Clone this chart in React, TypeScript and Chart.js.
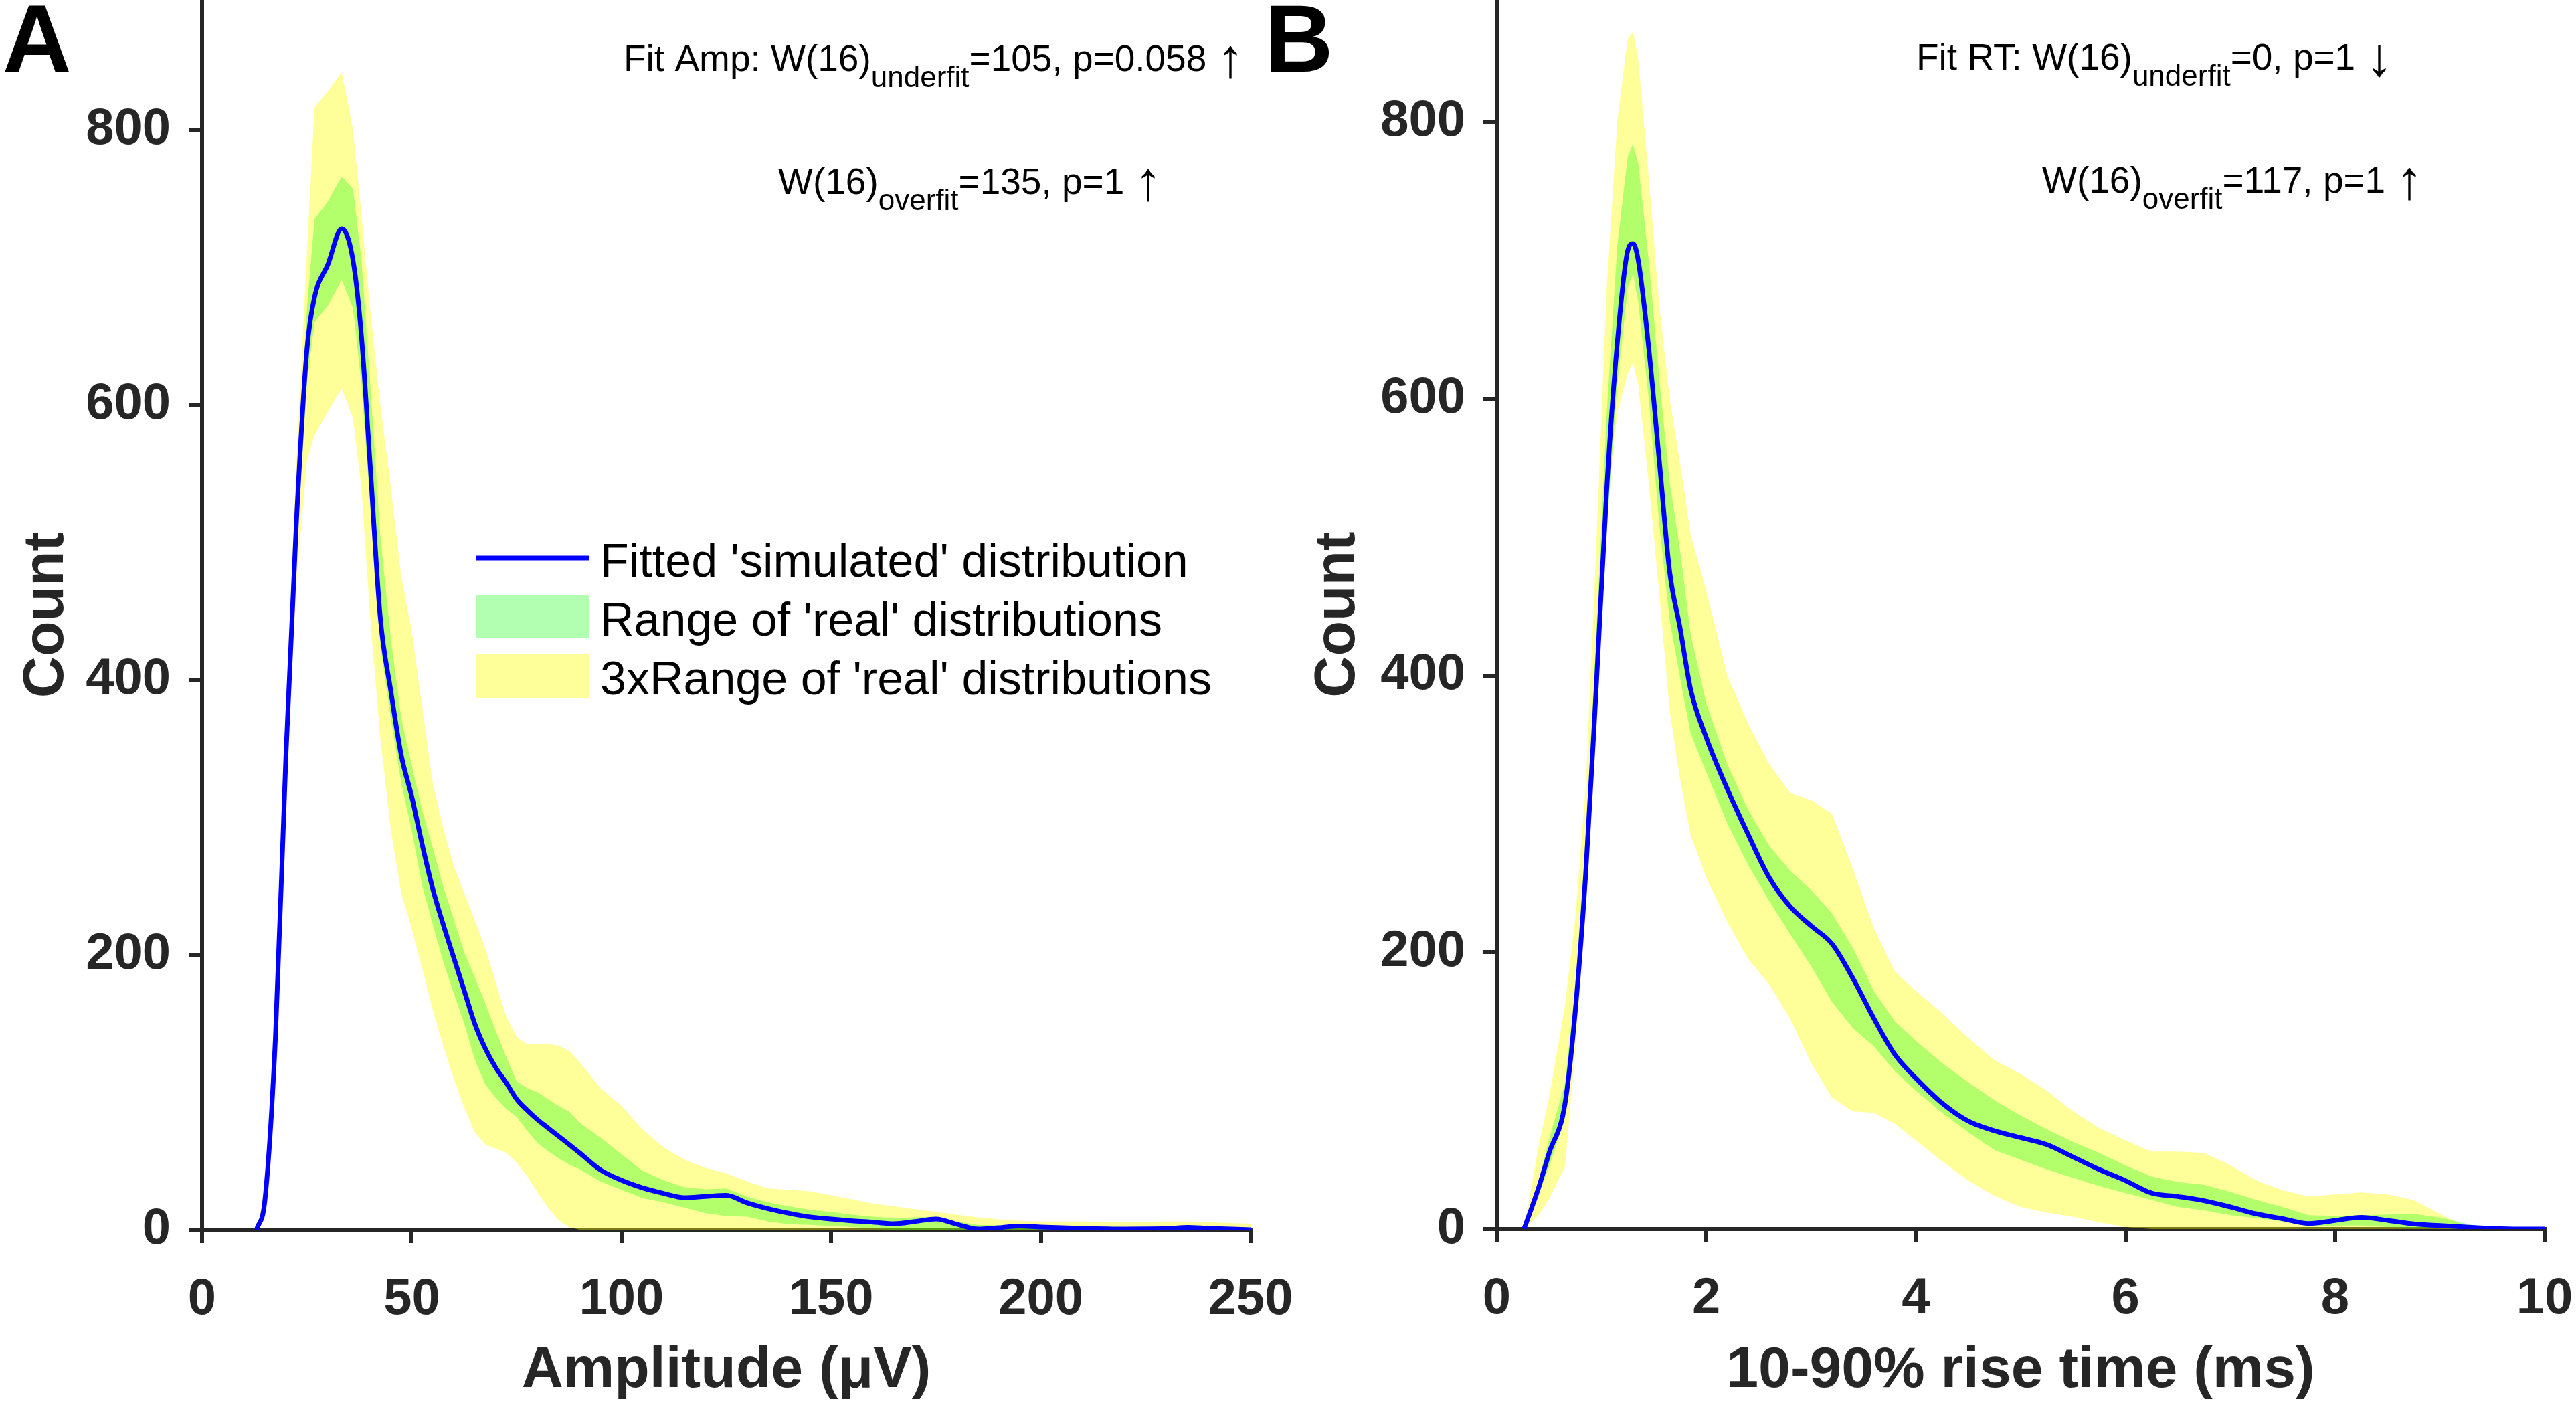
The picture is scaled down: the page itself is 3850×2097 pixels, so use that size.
import { useEffect, useRef } from "react";
import { Chart, registerables } from "chart.js";

Chart.register(...registerables);

const H = 2097;
const FONT = '"Liberation Sans", Arial, Helvetica, sans-serif';
const AXIS = "#262626";
const BLUE = "#0000ff";
const GREEN = "rgba(0, 255, 0, 0.3)";
const YELLOW = "rgba(255, 255, 0, 0.4)";

// ---- panel A : amplitude (uV) ----
const ampX = [13, 15, 17.5, 20, 22.5, 25, 26.8, 30, 33.3, 36, 38, 40, 42.5, 45, 47.5, 50, 52.5, 55, 57.5, 60, 62.5, 65, 67.5, 70, 72.5, 75, 77.5, 80, 82.5, 85, 87.5, 90, 95, 100, 105, 110, 115, 120, 125, 130, 135, 140, 145, 150, 155, 160, 165, 170, 175, 180, 185, 190, 195, 200, 210, 220, 230, 235, 240, 250];
const ampFit = [0, 22, 140, 345, 515, 640, 678, 702, 728, 705, 650, 560, 445, 392, 345, 315, 280, 248, 222, 198, 174, 150, 132, 118, 107, 95, 87, 80, 74, 68, 62, 56, 43.5, 36, 30.5, 26.5, 23.4, 24.2, 25, 19.5, 15.3, 12, 9.3, 7.8, 6.5, 5.5, 4.4, 6, 7.8, 4, 0.5, 1.5, 2.7, 2, 1, 0.5, 0.8, 1.7, 1, 0];
const ampRangeHi = [0, 24, 150, 360, 535, 670, 735, 748, 766, 757, 705, 620, 505, 430, 372, 338, 305, 278, 250, 226, 202, 184, 165, 145, 126, 108, 103, 100, 95, 90, 86, 78, 67, 55, 43, 36, 31, 29.5, 30, 24, 20, 17, 14.5, 13, 11, 9.5, 8.5, 9, 9.5, 6, 3.5, 3, 3, 2.7, 2.5, 2, 1.5, 2, 1.5, 1];
const ampRangeLo = [0, 20, 130, 330, 495, 615, 660, 672, 691, 670, 615, 530, 425, 372, 325, 290, 250, 222, 195, 172, 150, 124, 106, 96, 88, 82, 72, 63, 57, 52, 47.5, 44, 35, 29, 23, 20, 16, 12, 10, 9.5, 6, 4, 3.5, 2.7, 2, 1, 0, 0, 0, 0, 0, 0, 0, 0, 0, 0, 0, 0, 0, 0];
const amp3Hi = [0, 30, 160, 380, 560, 710, 816, 828, 842, 800, 738, 672, 600, 540, 475, 435, 380, 325, 292, 265, 245, 225, 205, 180, 155, 140, 135, 135, 135, 134, 130, 122, 103, 90, 73, 60, 51, 45, 41, 35, 30, 29, 28, 25, 22, 19, 17, 15, 13, 11, 9, 7.5, 6.5, 6, 6, 5.5, 6, 6, 5.5, 4.4];
const amp3Lo = [0, 15, 120, 310, 470, 560, 578, 595, 612, 590, 540, 449, 358, 291, 245, 219, 190, 160, 134, 110, 89, 71, 62, 59, 56, 49, 39, 27, 16, 7, 2, 0, 0, 0, 0, 0, 0, 0, 0, 0, 0, 0, 0, 0, 0, 0, 0, 0, 0, 0, 0, 0, 0, 0, 0, 0, 0, 0, 0, 0];
const ampTicks = [0, 50, 100, 150, 200, 250];

// ---- panel B : 10-90% rise time (ms) ----
const rtX = [0.26, 0.4, 0.5, 0.65, 0.75, 0.85, 0.95, 1.05, 1.15, 1.25, 1.3, 1.35, 1.45, 1.55, 1.65, 1.75, 1.85, 2.0, 2.2, 2.4, 2.6, 2.8, 3.0, 3.2, 3.4, 3.6, 3.8, 4.0, 4.25, 4.5, 4.75, 5.0, 5.25, 5.5, 5.75, 6.0, 6.25, 6.5, 6.75, 7.0, 7.25, 7.5, 7.75, 8.0, 8.25, 8.5, 8.75, 9.0, 9.25, 9.5, 9.75, 10];
const rtFit = [0, 30, 55, 90, 158, 258, 392, 535, 640, 707, 712, 700, 637, 556, 475, 434, 390, 355, 318, 285, 254, 233, 219, 206, 181, 152, 126, 109, 91, 78, 71, 66, 61, 52, 43, 35, 26, 23.5, 20.5, 16, 11, 7.5, 4, 6.2, 8.4, 6.3, 3.7, 2.5, 1.5, 0.5, 0, 0];
const rtRangeHi = [0, 35, 65, 105, 175, 285, 430, 590, 710, 775, 784, 770, 700, 615, 540, 490, 430, 380, 336, 303, 277, 259, 245, 228, 203, 172, 150, 136, 120, 106, 93, 82, 72, 63, 55, 46, 38, 34, 32, 27, 21, 16, 10, 9.5, 10, 10.5, 11, 8.5, 4, 0, 0, 0];
const rtRangeLo = [0, 25, 45, 80, 140, 235, 370, 505, 610, 680, 690, 670, 600, 510, 440, 398, 358, 330, 293, 263, 237, 213, 190, 164, 145, 132, 114, 100, 84, 70, 57, 50, 43, 37, 31, 26, 21, 16, 13.5, 10, 8, 5.5, 2, 2.5, 2.5, 1.5, 1, 0.5, 0, 0, 0, 0];
const rt3Hi = [0, 60, 95, 161, 225, 320, 495, 680, 800, 860, 865, 845, 760, 668, 600, 553, 502, 461, 400, 365, 336, 315, 310, 300, 260, 217, 186, 172, 156, 138, 122, 112, 100, 85, 73, 64, 56, 56, 55, 46, 35, 28, 23.5, 25, 26.5, 25, 21, 11, 2, 0, 0, 0];
const rt3Lo = [0, 10, 22, 45, 128, 230, 380, 520, 590, 618, 626, 610, 540, 460, 375, 325, 285, 254, 222, 195, 177, 152, 120, 95, 85, 84, 76, 64, 49, 35, 24, 16, 12, 9, 5, 1.5, 0, 0, 0, 0, 0, 0, 0, 0, 0, 0, 0, 0, 0, 0, 0, 0];
const rtTicks = [0, 2, 4, 6, 8, 10];

const countTicks = [0, 200, 400, 600, 800];
const legendLabels = ["Fitted 'simulated' distribution", "Range of 'real' distributions", "3xRange of 'real' distributions"];

// kind: "sub" = subscript, "arrow" = tall thin arrow glyph
type Run = { t: string; kind?: "sub" | "arrow" };
type Note = { x: number; y: number; runs: Run[] };

const ampNotes: Note[] = [
  { x: 932, y: 106, runs: [{ t: "Fit Amp: W(16)" }, { t: "underfit", kind: "sub" }, { t: "=105, p=0.058 " }, { t: "↑", kind: "arrow" }] },
  { x: 1163, y: 290, runs: [{ t: "W(16)" }, { t: "overfit", kind: "sub" }, { t: "=135, p=1 " }, { t: "↑", kind: "arrow" }] },
];
const rtNotes: Note[] = [
  { x: 1024, y: 104, runs: [{ t: "Fit RT: W(16)" }, { t: "underfit", kind: "sub" }, { t: "=0, p=1 " }, { t: "↓", kind: "arrow" }] },
  { x: 1212, y: 288, runs: [{ t: "W(16)" }, { t: "overfit", kind: "sub" }, { t: "=117, p=1 " }, { t: "↑", kind: "arrow" }] },
];

function drawRuns(ctx: CanvasRenderingContext2D, note: Note) {
  let cx = note.x;
  for (const r of note.runs) {
    let size = 55;
    let dy = 0;
    if (r.kind === "sub") { size = 44; dy = 24; }
    if (r.kind === "arrow") { size = 82; dy = 9; }
    ctx.font = `${size}px ${FONT}`;
    ctx.fillText(r.t, cx, note.y + dy);
    cx += ctx.measureText(r.t).width;
  }
}

function drawLegend(ctx: CanvasRenderingContext2D) {
  const x0 = 712, x1 = 880, tx = 897;
  ctx.strokeStyle = BLUE;
  ctx.lineWidth = 7;
  ctx.beginPath();
  ctx.moveTo(x0, 834);
  ctx.lineTo(x1, 834);
  ctx.stroke();
  ctx.fillStyle = GREEN;
  ctx.fillRect(x0, 890, x1 - x0, 64);
  ctx.fillStyle = YELLOW;
  ctx.fillRect(x0, 978, x1 - x0, 65);
  ctx.fillStyle = "#000";
  ctx.font = `70px ${FONT}`;
  legendLabels.forEach((s, i) => ctx.fillText(s, tx, 862 + i * 88));
}

const panels = [
  {
    x: ampX, fit: ampFit, hi: ampRangeHi, lo: ampRangeLo, hi3: amp3Hi, lo3: amp3Lo,
    xTicks: ampTicks, xMax: 250, yMax: 894.4, xTitle: "Amplitude (μV)",
    left: 0, width: 1960, pad: { left: 0, right: 91 }, yW: 302, xH: 259,
    letter: "A", letterX: 4, notes: ampNotes, legend: true,
  },
  {
    x: rtX, fit: rtFit, hi: rtRangeHi, lo: rtRangeLo, hi3: rt3Hi, lo3: rt3Lo,
    xTicks: rtTicks, xMax: 10, yMax: 888, xTitle: "10-90% rise time (ms)",
    left: 1840, width: 2010, pad: { left: 90, right: 47 }, yW: 307, xH: 260,
    letter: "B", letterX: 50, notes: rtNotes, legend: false,
  },
];

function makeConfig(p: any): any {
  const pts = (ys: number[]) => p.x.map((x: number, i: number) => ({ x, y: ys[i] }));
  const band = (ys: number[], fill: any, color: string) => ({
    data: pts(ys), fill, backgroundColor: color, borderColor: "rgba(0,0,0,0)",
    borderWidth: 0, pointRadius: 0, tension: 0,
  });
  const tickFont = { family: FONT, weight: "bold", size: 76 };
  const titleFont = { family: FONT, weight: "bold", size: 86, lineHeight: 1 };
  const grid = { display: true, drawOnChartArea: false, drawTicks: true, tickLength: 20, color: AXIS, lineWidth: 6 };
  const border = { display: true, color: AXIS, width: 6 };
  return {
    type: "line",
    data: {
      datasets: [
        { data: pts(p.fit), borderColor: BLUE, borderWidth: 7, pointRadius: 0, fill: false, cubicInterpolationMode: "monotone" },
        band(p.hi, "+1", GREEN),
        band(p.lo, false, GREEN),
        band(p.hi3, "+1", YELLOW),
        band(p.lo3, false, YELLOW),
      ],
    },
    options: {
      animation: false,
      responsive: false,
      maintainAspectRatio: false,
      devicePixelRatio: 1,
      layout: { padding: { left: p.pad.left, right: p.pad.right, top: 0, bottom: 0 } },
      plugins: { legend: { display: false }, tooltip: { enabled: false } },
      scales: {
        x: {
          type: "linear", position: "bottom", min: 0, max: p.xMax, bounds: "data",
          afterBuildTicks: (s: any) => { s.ticks = p.xTicks.map((v: number) => ({ value: v })); },
          afterFit: (s: any) => { s.height = p.xH; s.paddingLeft = 0; s.paddingRight = 0; },
          ticks: { font: tickFont, color: AXIS, padding: 39, maxRotation: 0 },
          grid, border,
          title: { display: true, text: p.xTitle, font: titleFont, color: AXIS, padding: { top: 0, bottom: 5 } },
        },
        y: {
          type: "linear", position: "left", min: 0, max: p.yMax, bounds: "data",
          afterBuildTicks: (s: any) => { s.ticks = countTicks.map((v) => ({ value: v })); },
          afterFit: (s: any) => { s.width = p.yW; s.paddingTop = 0; s.paddingBottom = 0; },
          ticks: { font: tickFont, color: AXIS, padding: 27 },
          grid, border,
          title: { display: true, text: "Count", font: titleFont, color: AXIS, padding: { top: 27, bottom: 0 } },
        },
      },
    },
    plugins: [
      {
        id: "panelText",
        afterDraw(chart: any) {
          const ctx = chart.ctx as CanvasRenderingContext2D;
          ctx.save();
          ctx.textAlign = "left";
          ctx.textBaseline = "alphabetic";
          ctx.fillStyle = "#000";
          ctx.font = `bold 142px ${FONT}`;
          ctx.fillText(p.letter, p.letterX, 107);
          p.notes.forEach((n: Note) => drawRuns(ctx, n));
          if (p.legend) drawLegend(ctx);
          ctx.restore();
        },
      },
    ],
  };
}

function Panel({ spec }: { spec: any }) {
  const ref = useRef<HTMLCanvasElement | null>(null);

  useEffect(() => {
    if (!ref.current) return;
    const chart = new Chart(ref.current, makeConfig(spec));
    return () => {
      chart.destroy();
    };
  }, []);

  return (
    <canvas
      ref={ref}
      width={spec.width}
      height={H}
      style={{ position: "absolute", left: spec.left, top: 0, width: spec.width, height: H }}
    />
  );
}

export default function App() {
  return (
    <div style={{ position: "absolute", left: 0, top: 0, width: 3850, height: H, background: "#fff", overflow: "hidden" }}>
      {panels.map((p) => (
        <Panel key={p.letter} spec={p} />
      ))}
    </div>
  );
}
